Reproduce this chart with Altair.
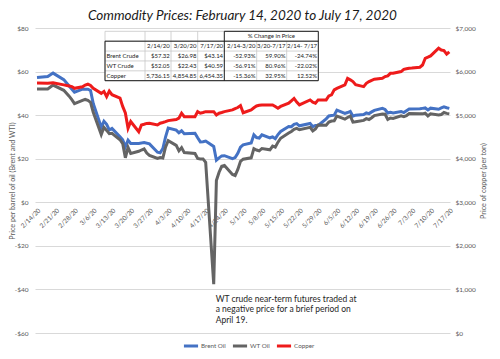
import altair as alt
import pandas as pd

# ---------------- data ----------------
brent_dates = ["2020-02-14","2020-02-18","2020-02-20","2020-02-24","2020-02-26","2020-02-28","2020-03-02","2020-03-04","2020-03-05","2020-03-06",
               "2020-03-09","2020-03-10","2020-03-11","2020-03-12","2020-03-13","2020-03-16","2020-03-17","2020-03-18","2020-03-19","2020-03-20",
               "2020-03-23","2020-03-25","2020-03-27","2020-03-30","2020-03-31","2020-04-01","2020-04-02","2020-04-03","2020-04-06","2020-04-07",
               "2020-04-08","2020-04-09","2020-04-13","2020-04-14","2020-04-15","2020-04-16","2020-04-17","2020-04-20","2020-04-21","2020-04-22",
               "2020-04-23","2020-04-24","2020-04-27","2020-04-28","2020-04-29","2020-04-30","2020-05-01","2020-05-04","2020-05-05","2020-05-06",
               "2020-05-07","2020-05-08","2020-05-11","2020-05-12","2020-05-13","2020-05-14","2020-05-15","2020-05-18","2020-05-19","2020-05-20",
               "2020-05-21","2020-05-22","2020-05-26","2020-05-27","2020-05-28","2020-05-29","2020-06-01","2020-06-02","2020-06-03","2020-06-04",
               "2020-06-05","2020-06-08","2020-06-09","2020-06-10","2020-06-11","2020-06-12","2020-06-15","2020-06-16","2020-06-17","2020-06-18",
               "2020-06-19","2020-06-22","2020-06-23","2020-06-24","2020-06-25","2020-06-26","2020-06-29","2020-06-30","2020-07-01","2020-07-02",
               "2020-07-06","2020-07-07","2020-07-08","2020-07-09","2020-07-10","2020-07-13","2020-07-14","2020-07-15","2020-07-16","2020-07-17"]
brent_values = [57.3, 57.7, 59.3, 56.3, 53.4, 50.5, 51.9, 51.9, 51.3, 45.3,
                34.4, 37.2, 35.8, 33.2, 33.9, 30.1, 28.7, 25.5, 28.5, 27.0,
                27.0, 27.4, 26.8, 23.0, 22.7, 24.7, 29.9, 34.1, 33.1, 31.9,
                32.8, 31.5, 31.7, 29.6, 27.7, 27.8, 28.1, 25.6, 19.3, 20.4,
                21.3, 21.4, 20.0, 20.5, 22.5, 25.3, 26.4, 27.2, 31.0, 29.7,
                29.5, 31.0, 29.6, 30.0, 29.2, 31.1, 32.5, 34.8, 34.7, 35.8,
                36.1, 35.1, 36.2, 34.7, 35.3, 35.3, 38.3, 39.6, 39.8, 40.0,
                42.3, 40.8, 41.2, 41.7, 39.5, 40.0, 40.3, 41.0, 40.7, 41.5,
                42.2, 43.1, 42.6, 41.0, 41.3, 41.0, 41.7, 41.2, 42.0, 42.8,
                42.9, 43.1, 43.3, 42.4, 43.2, 42.7, 43.3, 43.8, 43.4, 43.1]

wti_dates = ["2020-02-14","2020-02-18","2020-02-20","2020-02-24","2020-02-26","2020-02-27","2020-02-28","2020-03-02","2020-03-03","2020-03-04",
             "2020-03-05","2020-03-06","2020-03-09","2020-03-10","2020-03-11","2020-03-12","2020-03-13","2020-03-16","2020-03-17","2020-03-18",
             "2020-03-19","2020-03-20","2020-03-23","2020-03-24","2020-03-25","2020-03-26","2020-03-27","2020-03-30","2020-03-31","2020-04-01",
             "2020-04-02","2020-04-03","2020-04-06","2020-04-07","2020-04-08","2020-04-09","2020-04-13","2020-04-14","2020-04-15","2020-04-16",
             "2020-04-17","2020-04-20","2020-04-21","2020-04-22","2020-04-23","2020-04-24","2020-04-27","2020-04-28","2020-04-29","2020-04-30",
             "2020-05-01","2020-05-04","2020-05-05","2020-05-06","2020-05-07","2020-05-08","2020-05-11","2020-05-12","2020-05-13","2020-05-14",
             "2020-05-15","2020-05-18","2020-05-19","2020-05-20","2020-05-21","2020-05-22","2020-05-26","2020-05-27","2020-05-28","2020-05-29",
             "2020-06-01","2020-06-02","2020-06-03","2020-06-04","2020-06-05","2020-06-08","2020-06-09","2020-06-10","2020-06-11","2020-06-12",
             "2020-06-15","2020-06-16","2020-06-17","2020-06-18","2020-06-19","2020-06-22","2020-06-23","2020-06-24","2020-06-25","2020-06-26",
             "2020-06-29","2020-06-30","2020-07-01","2020-07-02","2020-07-06","2020-07-07","2020-07-08","2020-07-09","2020-07-10","2020-07-13",
             "2020-07-14","2020-07-15","2020-07-16","2020-07-17"]
wti_values = [52.05, 52.05, 53.8, 51.4, 48.7, 47.1, 45.3, 46.75, 47.2, 46.8,
              45.9, 41.3, 31.1, 34.4, 33.0, 31.5, 31.7, 28.7, 26.95, 20.4,
              25.2, 22.43, 23.4, 24.0, 24.5, 22.6, 21.5, 20.1, 20.5, 20.3,
              25.3, 28.3, 26.1, 23.6, 25.1, 22.8, 22.4, 20.1, 19.9, 19.9,
              18.3, -37.63, 10.0, 13.8, 16.5, 16.9, 12.8, 12.3, 15.1, 18.8,
              19.8, 20.4, 24.6, 24.0, 23.6, 24.7, 24.1, 25.8, 25.3, 27.6,
              29.4, 31.8, 32.5, 33.5, 33.9, 33.3, 34.4, 32.8, 33.7, 35.5,
              35.4, 36.8, 37.3, 37.4, 39.6, 38.2, 38.9, 39.6, 36.8, 37.0,
              37.6, 38.4, 38.0, 38.8, 39.8, 40.5, 40.4, 38.0, 38.7, 38.5,
              39.7, 39.3, 39.8, 40.7, 40.6, 40.6, 40.9, 39.6, 40.6, 40.1,
              40.3, 41.2, 40.8, 40.59]

copper_dates = ["2020-02-14","2020-02-18","2020-02-20","2020-02-24","2020-02-26","2020-02-27","2020-02-28","2020-03-02","2020-03-03","2020-03-04",
                "2020-03-05","2020-03-06","2020-03-09","2020-03-10","2020-03-11","2020-03-12","2020-03-13","2020-03-16","2020-03-17","2020-03-18",
                "2020-03-19","2020-03-20","2020-03-23","2020-03-24","2020-03-25","2020-03-26","2020-03-27","2020-03-30","2020-03-31","2020-04-01",
                "2020-04-02","2020-04-03","2020-04-06","2020-04-07","2020-04-08","2020-04-09","2020-04-13","2020-04-14","2020-04-15","2020-04-16",
                "2020-04-17","2020-04-20","2020-04-21","2020-04-22","2020-04-23","2020-04-24","2020-04-27","2020-04-28","2020-04-29","2020-04-30",
                "2020-05-01","2020-05-04","2020-05-05","2020-05-06","2020-05-07","2020-05-08","2020-05-11","2020-05-12","2020-05-13","2020-05-14",
                "2020-05-15","2020-05-18","2020-05-19","2020-05-20","2020-05-21","2020-05-22","2020-05-26","2020-05-27","2020-05-28","2020-05-29",
                "2020-06-01","2020-06-02","2020-06-03","2020-06-04","2020-06-05","2020-06-08","2020-06-09","2020-06-10","2020-06-11","2020-06-12",
                "2020-06-15","2020-06-16","2020-06-17","2020-06-18","2020-06-19","2020-06-22","2020-06-23","2020-06-24","2020-06-25","2020-06-26",
                "2020-06-29","2020-06-30","2020-07-01","2020-07-02","2020-07-03","2020-07-06","2020-07-07","2020-07-08","2020-07-09","2020-07-10",
                "2020-07-13","2020-07-14","2020-07-15","2020-07-16","2020-07-17"]
copper_values = [5736, 5730, 5745, 5695, 5670, 5655, 5615, 5650, 5690, 5710,
                 5680, 5615, 5500, 5545, 5425, 5550, 5470, 5390, 5200, 5050,
                 4700, 4855, 4620, 4775, 4790, 4810, 4815, 4775, 4815, 4830,
                 4850, 4875, 4900, 4930, 5045, 4965, 4965, 5080, 5045, 5060,
                 5080, 5080, 5005, 5045, 5060, 5080, 5120, 5150, 5175, 5220,
                 5055, 5120, 5170, 5210, 5225, 5235, 5235, 5235, 5200, 5160,
                 5200, 5275, 5330, 5385, 5300, 5235, 5350, 5300, 5275, 5350,
                 5350, 5440, 5465, 5580, 5615, 5695, 5845, 5810, 5770, 5700,
                 5655, 5730, 5770, 5800, 5825, 5845, 5885, 5900, 5960, 5960,
                 6000, 6050, 6065, 6075, 6080, 6100, 6150, 6305, 6330, 6360,
                 6535, 6495, 6480, 6400, 6454]

series_names = ["Brent Oil", "WT Oil", "Copper"]
x_tick_labels = ["2/14/20","2/21/20","2/28/20","3/6/20","3/13/20","3/20/20","3/27/20","4/3/20","4/10/20","4/17/20",
                 "4/24/20","5/1/20","5/8/20","5/15/20","5/22/20","5/29/20","6/5/20","6/12/20","6/19/20","6/26/20",
                 "7/3/20","7/10/20","7/17/20"]
oil_ticks = [-60, -40, -20, 0, 20, 40, 60, 80]
copper_ticks = [0, 1000, 2000, 3000, 4000, 5000, 6000, 7000]

title_text = "Commodity Prices: February 14, 2020 to July 17, 2020"
left_title = "Price per barrel of oil (Brent and WTI)"
right_title = "Price of copper (per ton)"
note_date = "2020-04-20"
note_price = -42.5
note_text = "WT crude near-term futures traded at\na negative price for a brief period on\nApril 19."

table_row_names = ["Brent Crude", "WT Crude", "Copper"]
table_col_names = ["2/14/20", "3/20/20", "7/17/20", "2/14-3/20", "3/20-7/17", "2/14- 7/17"]
table_header = "% Change in Price"
table_prices = [["$57.32", "$26.98", "$43.14"],
                ["$52.05", "$22.43", "$40.59"],
                ["5,736.15", "4,854.85", "6,454.35"]]
table_changes = [["-52.93%", "59.90%", "-24.74%"],
                 ["-56.91%", "80.96%", "-22.02%"],
                 ["-15.36%", "32.95%", "12.52%"]]

# ---------------- style / layout ----------------
FONT = "Lato"
series_colors = ["#4472C4", "#646464", "#EE1B1B"]
GREY_TXT = "#595959"
W, H = 415, 305
col_edges = [0, 40, 66, 92.7, 119.3, 151.7, 181.7, 213.3]   # table layout units
TABLE_X_RANGE = [70, 283.3]
TABLE_Y_RANGE = [3.3, 52.7]


def dt_label(s):
    m, d, y = [int(p) for p in s.split("/")]
    return alt.DateTime(year=2000 + y, month=m, date=d, utc=True)


oil = pd.DataFrame({
    "date": brent_dates + wti_dates + [note_date],
    "price": brent_values + wti_values + [note_price],
    "series": ["Brent Oil"] * len(brent_dates) + ["WT Oil"] * len(wti_dates) + ["note"],
    "text": [""] * (len(brent_dates) + len(wti_dates)) + [note_text],
})
copper = pd.DataFrame({"date": copper_dates, "price": copper_values, "series": "Copper"})

x_scale = alt.Scale(type="utc", nice=False,
                    domain=[alt.DateTime(year=2020, month=2, date=13, hours=6, utc=True),
                            alt.DateTime(year=2020, month=7, date=17, hours=6, utc=True)])
oil_scale = alt.Scale(domain=[-60, 80], nice=False)
color = alt.Color("series:N", scale=alt.Scale(domain=series_names, range=series_colors),
                  legend=alt.Legend(orient="none", legendX=147, legendY=309, direction="horizontal",
                                    title=None, symbolType="stroke", symbolStrokeWidth=3, symbolSize=200,
                                    labelFont=FONT, labelFontSize=6.3, labelColor=GREY_TXT,
                                    labelOffset=1, columnPadding=0))

base = alt.Chart(oil).encode(
    x=alt.X("date:T", scale=x_scale, title=None,
            axis=alt.Axis(values=[dt_label(s) for s in x_tick_labels],
                          labelExpr="utcFormat(datum.value, '%-m/%-d/%y')",
                          labelAngle=315, labelAlign="right", labelBaseline="top", labelPadding=4,
                          labelFont=FONT, labelFontSize=6.5, labelColor=GREY_TXT, labelOverlap=False,
                          labelFlush=False, domain=False, ticks=False, grid=False, offset=-130)),
    y=alt.Y("price:Q", scale=oil_scale,
            axis=alt.Axis(values=oil_ticks, title=left_title,
                          labelExpr="datum.value < 0 ? '-$' + abs(datum.value) : '$' + datum.value",
                          labelFont=FONT, labelFontSize=6.5, labelColor=GREY_TXT, labelPadding=7,
                          labelFlush=False, labelBaseline="middle", labelBound=False,
                          titleFont=FONT, titleFontSize=7.2, titleFontWeight="normal", titleColor=GREY_TXT,
                          titleX=-23, titleY=H / 2, titleAlign="center", titleBaseline="middle",
                          domain=False, ticks=False, grid=True, gridColor="#d9d9d9", gridWidth=1)),
)

oil_lines = base.transform_filter("datum.series != 'note'").mark_line(strokeWidth=3).encode(color=color)
note = base.transform_filter("datum.series == 'note'").mark_text(
    align="left", baseline="top", dx=2, font=FONT, fontSize=8.5, lineHeight=10.5, color="#262626",
    lineBreak="\n").encode(text="text:N")

oil_group = alt.layer(oil_lines, note)

copper_line = alt.Chart(copper).mark_line(strokeWidth=3).encode(
    x=alt.X("date:T", scale=x_scale, axis=None),
    y=alt.Y("price:Q", scale=alt.Scale(domain=[0, 7000], nice=False),
            axis=alt.Axis(orient="right", values=copper_ticks, format="$,.0f", title=right_title,
                          labelFont=FONT, labelFontSize=6.5, labelColor=GREY_TXT, labelPadding=5,
                          labelFlush=False, labelBaseline="middle", labelBound=False,
                          titleFont=FONT, titleFontSize=7.2, titleFontWeight="normal", titleColor=GREY_TXT,
                          titleAngle=270, titleX=33, titleY=H / 2, titleAlign="center", titleBaseline="middle",
                          domain=False, ticks=False, grid=False)),
    color=color,
)

# ---------------- table overlay ----------------
tx = alt.Scale(domain=[col_edges[0], col_edges[-1]], range=TABLE_X_RANGE, nice=False, zero=False)
ty = alt.Scale(domain=[0, 5], range=TABLE_Y_RANGE, nice=False, zero=False)
L, R = col_edges[0], col_edges[-1]
split = col_edges[4]

light = []
for r in range(6):
    light.append((L, R, r, r))
for e in col_edges[:4]:
    light.append((e, e, 0, 5))
for e in col_edges[5:7]:
    light.append((e, e, 1, 5))
dark = [(L, R, 1, 1), (L, R, 5, 5), (L, L, 1, 5), (split, R, 0, 0), (split, split, 0, 5), (R, R, 0, 5)]


def segs(rows):
    return pd.DataFrame(rows, columns=["x", "x2", "y", "y2"])


def seg_enc(ch):
    return ch.encode(x=alt.X("x:Q", scale=tx, axis=None), x2="x2:Q",
                     y=alt.Y("y:Q", scale=ty, axis=None), y2="y2:Q")


bg = seg_enc(alt.Chart(segs([(L, R, 0, 5)])).mark_rect(fill="white"))
light_rules = seg_enc(alt.Chart(segs(light)).mark_rule(color="#c6c6c6", strokeWidth=0.8))
dark_rules = seg_enc(alt.Chart(segs(dark)).mark_rule(color="#1a1a1a", strokeWidth=1))

right_cells = []
for j, name in enumerate(table_col_names):
    right_cells.append((col_edges[j + 2], 1.5, name))
for i in range(3):
    vals = table_prices[i] + table_changes[i]
    for j, v in enumerate(vals):
        right_cells.append((col_edges[j + 2], i + 2.5, v))
left_cells = [(col_edges[0], i + 2.5, n) for i, n in enumerate(table_row_names)]
center_cells = [((split + R) / 2, 0.5, table_header)]


def cells(rows, align, dx):
    df = pd.DataFrame(rows, columns=["x", "y", "text"])
    return alt.Chart(df).mark_text(align=align, baseline="middle", dx=dx, font=FONT, fontSize=6,
                                   color="#1a1a1a").encode(
        x=alt.X("x:Q", scale=tx, axis=None), y=alt.Y("y:Q", scale=ty, axis=None), text="text:N")


table = alt.layer(bg, light_rules, dark_rules,
                  cells(right_cells, "right", -1.2), cells(left_cells, "left", 1.5),
                  cells(center_cells, "center", 0))

chart = alt.layer(oil_group, copper_line, table).resolve_scale(
    x="independent", y="independent"
).properties(
    width=W, height=H,
    padding={"left": 27, "top": 20, "right": 40, "bottom": 18},
    autosize=alt.AutoSizeParams(type="none"),
    title=alt.TitleParams(title_text, font=FONT, fontSize=13.5, fontStyle="italic", fontWeight="normal",
                          color="#1a1a1a", anchor="middle", offset=3),
).configure_view(stroke=None)

chart.save("out.html", embed_options={"renderer": "svg", "actions": False})
